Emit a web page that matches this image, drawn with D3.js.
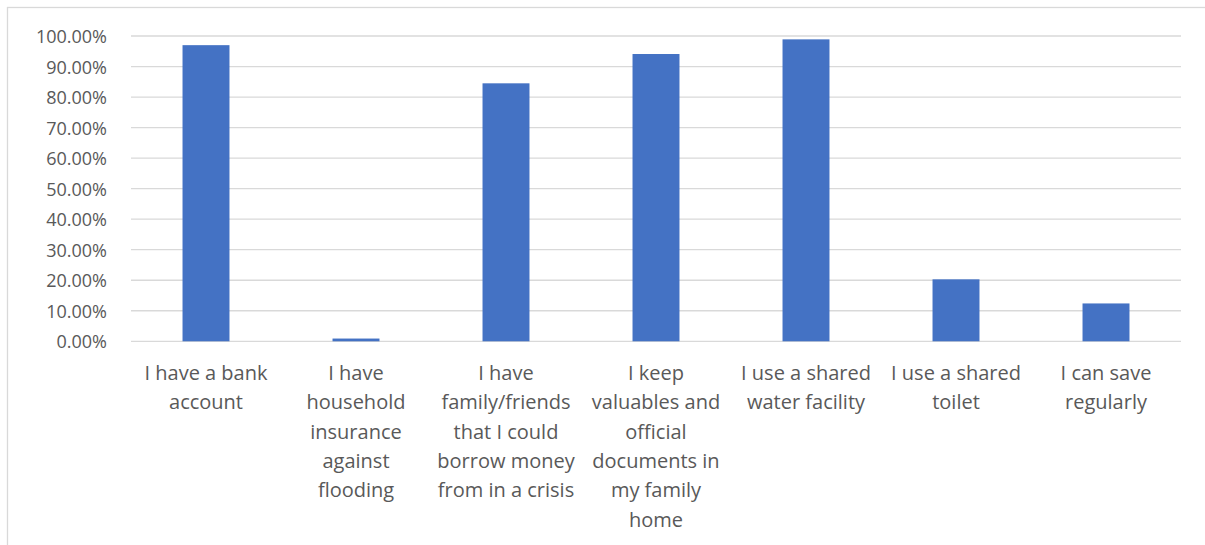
<!DOCTYPE html>
<html>
<head>
<meta charset="utf-8">
<script src="https://cdn.jsdelivr.net/npm/d3@7"></script>
<style>
  html, body { margin: 0; padding: 0; background: #ffffff; }
  svg { display: block; }
</style>
</head>
<body>
<svg id="chart" width="1205" height="545"></svg>
<script>
// Survey responses: share of respondents answering "yes"
const categories = [
  "I have a bank account",
  "I have household insurance against flooding",
  "I have family/friends that I could borrow money from in a crisis",
  "I keep valuables and official documents in my family home",
  "I use a shared water facility",
  "I use a shared toilet",
  "I can save regularly"
];
// Wrapped axis labels, one array of lines per category
const categoryLines = [
  ["I have a bank", "account"],
  ["I have", "household", "insurance", "against", "flooding"],
  ["I have", "family/friends", "that I could", "borrow money", "from in a crisis"],
  ["I keep", "valuables and", "official", "documents in", "my family", "home"],
  ["I use a shared", "water facility"],
  ["I use a shared", "toilet"],
  ["I can save", "regularly"]
];
const values = [0.970, 0.009, 0.845, 0.941, 0.989, 0.203, 0.124];
const yTicks = [0, 0.1, 0.2, 0.3, 0.4, 0.5, 0.6, 0.7, 0.8, 0.9, 1.0];

const svg = d3.select("#chart");
const W = 1205, H = 545;
const plot = { left: 131, right: 1181, top: 36, bottom: 341.3 };

// Outer chart frame
svg.append("rect")
  .attr("x", 7.5).attr("y", 7.5)
  .attr("width", W + 10).attr("height", H + 10)
  .attr("fill", "#ffffff")
  .attr("stroke", "#d9d9d9")
  .attr("stroke-width", 1.3);

const x = d3.scaleBand()
  .domain(categories)
  .range([plot.left, plot.right])
  .paddingInner(0.687)
  .paddingOuter(0.687 / 2);

const y = d3.scaleLinear()
  .domain([0, 1])
  .range([plot.bottom, plot.top]);

// Horizontal gridlines
svg.append("g")
  .selectAll("line")
  .data(yTicks)
  .join("line")
  .attr("x1", plot.left).attr("x2", plot.right)
  .attr("y1", d => y(d)).attr("y2", d => y(d))
  .attr("stroke", "#d9d9d9")
  .attr("stroke-width", 1.3);

// Y axis labels
const yAxis = d3.axisLeft(y)
  .tickValues(yTicks)
  .tickSize(0)
  .tickPadding(0)
  .tickFormat(d3.format(".2%"));

svg.append("g")
  .attr("transform", `translate(107,0)`)
  .call(yAxis)
  .call(g => g.select(".domain").remove())
  .call(g => g.selectAll("text")
    .attr("font-family", "'Open Sans', sans-serif")
    .attr("font-size", 18)
    .attr("fill", "#595959")
    .attr("dy", "0.36em"));

// Bars
svg.append("g")
  .selectAll("rect")
  .data(values)
  .join("rect")
  .attr("x", (d, i) => x(categories[i]))
  .attr("width", x.bandwidth())
  .attr("y", d => y(d))
  .attr("height", d => y(0) - y(d))
  .attr("fill", "#4472c4");

// Category labels (wrapped)
const xLab = svg.append("g")
  .attr("font-family", "'Open Sans', sans-serif")
  .attr("font-size", 20)
  .attr("fill", "#595959")
  .attr("text-anchor", "middle");

categories.forEach((c, i) => {
  const cx = x(c) + x.bandwidth() / 2;
  const t = xLab.append("text").attr("x", cx).attr("y", 380);
  categoryLines[i].forEach((line, k) => {
    t.append("tspan")
      .attr("x", cx)
      .attr("y", 380 + k * 29.3)
      .text(line);
  });
});
</script>
</body>
</html>
